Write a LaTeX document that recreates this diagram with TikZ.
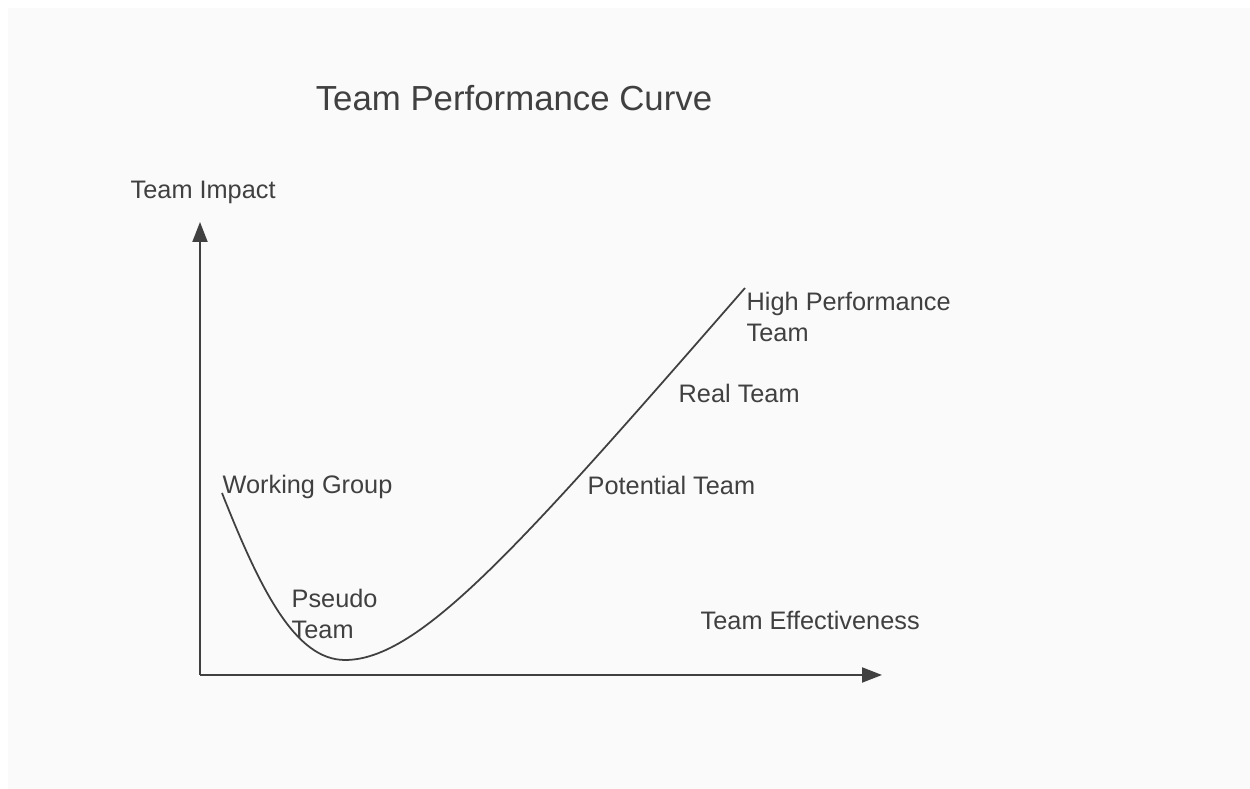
\documentclass[tikz,border=0pt]{standalone}
\usepackage{fontspec}
\setmainfont{Liberation Sans}
\usepackage{xcolor}
\usetikzlibrary{arrows,arrows.meta}
\definecolor{ink}{HTML}{404040}
\definecolor{paper}{HTML}{FAFAFA}
\tikzset{
	lbl/.style={anchor=west, inner sep=0pt, text=ink, font=\fontsize{7.2}{8.6}\selectfont, align=left},
	axis/.style={draw=ink, line width=0.55pt, -{Triangle[length=0.2cm,width=0.15cm]}}
}

\begin{document}
\begin{tikzpicture}
	\useasboundingbox (0,0) rectangle (12.5,7.89);
	\fill[white] (0,0) rectangle (12.5,7.89);
	\fill[paper] (0.08,0) rectangle (12.5,7.81);
	\coordinate (origin) at (2.00,1.14);
	\coordinate (ytip) at (2.00,5.67);
	\coordinate (xtip) at (8.82,1.14);
	\coordinate (start) at (2.22,2.96);
	\coordinate (dip) at (3.45,1.29);
	\coordinate (top) at (7.45,5.01);
	\draw[axis] (origin) -- (ytip);
	\draw[axis] (origin) -- (xtip);
	\draw[draw=ink, line width=0.5pt] (start) .. controls (2.6,2.0) and (2.95,1.29) .. (dip)
		.. controls (4.2,1.29) and (5.2,2.43) .. (top);
	\node[text=ink, font=\fontsize{9.9}{12}\selectfont, inner sep=0pt] (title) at (5.14,6.91) {Team Performance Curve};
	\node[lbl] (impact) at (1.30,5.97) {Team Impact};
	\node[lbl] (working) at (2.22,3.02) {Working Group};
	\node[lbl] (pseudo) at (2.91,1.75) {Pseudo\\Team};
	\node[lbl] (potential) at (5.87,3.04) {Potential Team};
	\node[lbl] (real) at (6.78,3.96) {Real Team};
	\node[lbl] (high) at (7.46,4.72) {High Performance\\Team};
	\node[lbl] (effect) at (7.00,1.69) {Team Effectiveness};
\end{tikzpicture}
\end{document}
